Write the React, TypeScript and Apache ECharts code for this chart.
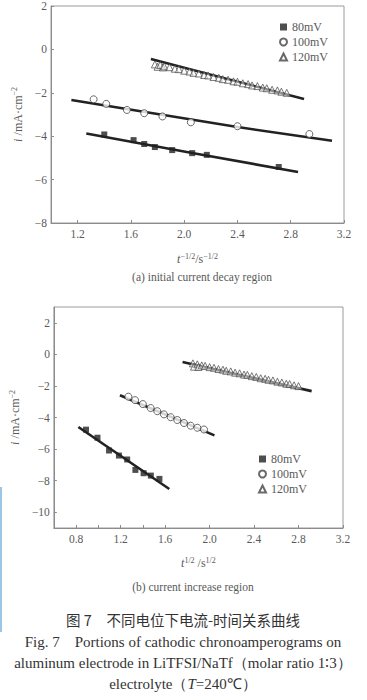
import React, { useEffect, useRef } from "react";
import * as echarts from "echarts";

// ---------- data: (a) initial current decay region ----------
const A_80_PTS: [number, number][] = [
  [1.40, -3.92], [1.62, -4.18], [1.70, -4.36], [1.78, -4.50],
  [1.91, -4.64], [2.06, -4.78], [2.17, -4.86], [2.71, -5.42],
];
const A_80_FIT: [number, number][] = [[1.265, -3.88], [2.06, -4.77], [2.855, -5.65]];

const A_100_PTS: [number, number][] = [
  [1.32, -2.30], [1.415, -2.51], [1.57, -2.79], [1.70, -2.94],
  [1.837, -3.09], [2.05, -3.36], [2.40, -3.54], [2.94, -3.90],
];
const A_100_FIT: [number, number][] = [[1.153, -2.33], [2.40, -3.58], [3.11, -4.21]];

const A_120_PTS: [number, number][] = [
  [1.78, -0.69], [1.80, -0.80], [1.82, -0.72], [1.84, -0.83], [1.85, -0.78],
  [1.89, -0.82], [1.93, -0.89], [1.96, -0.91], [2.00, -0.98], [2.04, -1.02],
  [2.07, -1.08], [2.11, -1.11], [2.15, -1.18], [2.18, -1.20], [2.22, -1.27],
  [2.26, -1.31], [2.29, -1.37], [2.33, -1.40], [2.37, -1.47], [2.40, -1.49],
  [2.44, -1.56], [2.48, -1.60], [2.51, -1.66], [2.55, -1.69], [2.59, -1.76],
  [2.62, -1.79], [2.66, -1.86], [2.70, -1.89], [2.73, -1.95], [2.77, -2.00],
];
const A_120_FIT: [number, number][] = [[1.75, -0.44], [2.90, -2.29]];

// ---------- data: (b) current increase region ----------
const B_80_PTS: [number, number][] = [
  [0.889, -4.77], [0.992, -5.28], [1.096, -6.09], [1.185, -6.41], [1.259, -6.66],
  [1.333, -7.32], [1.407, -7.53], [1.472, -7.68], [1.549, -7.89],
];
const B_80_FIT: [number, number][] = [[0.82, -4.60], [1.638, -8.53]];

const B_100_PTS: [number, number][] = [
  [1.27, -2.68], [1.33, -2.90], [1.40, -3.15], [1.47, -3.40], [1.53, -3.60],
  [1.59, -3.80], [1.65, -3.98], [1.71, -4.16], [1.77, -4.35], [1.83, -4.52],
  [1.89, -4.65], [1.95, -4.76],
];
const B_100_FIT: [number, number][] = [[1.194, -2.59], [2.044, -5.13]];

const B_120_PTS: [number, number][] = [
  [1.85, -0.57], [1.86, -0.78], [1.89, -0.63], [1.90, -0.80], [1.93, -0.70],
  [1.96, -0.73], [2.00, -0.81], [2.04, -0.85], [2.08, -0.93], [2.12, -0.97],
  [2.15, -1.04], [2.19, -1.08], [2.23, -1.16], [2.27, -1.20], [2.31, -1.28],
  [2.34, -1.30], [2.38, -1.38], [2.42, -1.43], [2.46, -1.51], [2.50, -1.55],
  [2.53, -1.61], [2.57, -1.65], [2.61, -1.73], [2.65, -1.78], [2.69, -1.86],
  [2.72, -1.88], [2.76, -1.96], [2.80, -2.01],
];
const B_120_FIT: [number, number][] = [[1.757, -0.48], [2.918, -2.33]];

const SERIES_NAMES = ["80mV", "100mV", "120mV"];
const A_X_TICKS = [1.2, 1.6, 2.0, 2.4, 2.8, 3.2];
const B_X_TICKS = [0.8, 1.2, 1.6, 2.0, 2.4, 2.8, 3.2];
const B_X_MINOR = [0.8, 1.0, 1.2, 1.4, 1.6, 2.0, 2.4, 2.8, 3.2];
const A_Y_TICKS = [-8, -6, -4, -2, 0, 2];
const B_Y_TICKS = [-10, -8, -6, -4, -2, 0, 2];

const SERIF = "'Liberation Serif', 'Times New Roman', serif";
const AXIS_COLOR = "#8c8c8c";
const TEXT_COLOR = "#5a5a5a";
const INK = "#222";

const nameRich = {
  n: { fontFamily: SERIF, fontSize: 12, color: TEXT_COLOR, lineHeight: 14 },
  i: { fontFamily: SERIF, fontSize: 12, color: TEXT_COLOR, fontStyle: "italic", lineHeight: 14 },
  s: { fontFamily: SERIF, fontSize: 8, color: TEXT_COLOR, lineHeight: 8, verticalAlign: "top" },
};

const fmtNum = (v: number) => String(v).replace("-", "−");
const fmtX = (v: number) => v.toFixed(1);

function xAxis(grid: number, min: number, ticks: number[], minor: number[], name: string, gap: number) {
  return {
    gridIndex: grid,
    type: "value",
    min,
    max: 3.2,
    axisLine: { onZero: false, lineStyle: { color: AXIS_COLOR, width: 1 } },
    axisTick: { inside: true, length: 3, customValues: minor, lineStyle: { color: AXIS_COLOR } },
    axisLabel: {
      customValues: ticks,
      formatter: fmtX,
      color: TEXT_COLOR,
      fontSize: 11.5,
      fontFamily: SERIF,
      margin: 5,
    },
    splitLine: { show: false },
    name,
    nameLocation: "middle",
    nameGap: gap,
    nameTextStyle: { rich: nameRich },
  };
}

function yAxis(grid: number, min: number, max: number, ticks: number[], gap: number) {
  return {
    gridIndex: grid,
    type: "value",
    min,
    max,
    axisLine: { onZero: false, lineStyle: { color: AXIS_COLOR, width: 1 } },
    axisTick: { inside: true, length: 3, customValues: ticks, lineStyle: { color: AXIS_COLOR } },
    axisLabel: {
      customValues: ticks,
      formatter: fmtNum,
      color: TEXT_COLOR,
      fontSize: 11.5,
      fontFamily: SERIF,
      margin: 4,
    },
    splitLine: { show: false },
    name: "{i|i} {n|/mA·cm}{s|−2}",
    nameLocation: "middle",
    nameRotate: 90,
    nameGap: gap,
    nameTextStyle: { rich: nameRich },
  };
}

function fitLine(idx: number, data: [number, number][]) {
  return {
    type: "line",
    xAxisIndex: idx,
    yAxisIndex: idx,
    data,
    showSymbol: false,
    silent: true,
    lineStyle: { color: INK, width: 2.6 },
    z: 2,
  };
}

function scatter(idx: number, name: string, data: [number, number][]) {
  const k = SERIES_NAMES.indexOf(name);
  const base: any = {
    type: "scatter",
    name,
    xAxisIndex: idx,
    yAxisIndex: idx,
    data,
    z: 3,
  };
  if (k === 0) {
    base.symbol = "rect";
    base.symbolSize = 6;
    base.itemStyle = { color: INK };
  } else if (k === 1) {
    base.symbol = "circle";
    base.symbolSize = 7;
    base.itemStyle = { color: "#fff", borderColor: "#444", borderWidth: 1 };
  } else {
    base.symbol = "triangle";
    base.symbolSize = 7;
    base.itemStyle = { color: "rgba(255,255,255,0.6)", borderColor: "#444", borderWidth: 0.9 };
  }
  return base;
}

function legend(left: number, top: number) {
  return {
    orient: "vertical",
    left,
    top,
    itemGap: 1,
    itemWidth: 7,
    itemHeight: 7,
    data: SERIES_NAMES,
    selectedMode: false,
    textStyle: { fontFamily: SERIF, fontSize: 12, color: TEXT_COLOR, lineHeight: 14, padding: [0, 0, 0, 0] },
  };
}

export default function App() {
  const ref = useRef<HTMLDivElement>(null);
  useEffect(() => {
    if (!ref.current) return;
    const chart = echarts.init(ref.current, undefined, { renderer: "svg" });
    const option: any = {
      animation: false,
      backgroundColor: "#fff",
      grid: [
        { left: 51, top: 3, width: 293, height: 220, show: true, borderColor: "#9a9a9a", borderWidth: 1 },
        { left: 48, top: 307, width: 295, height: 221, show: true, borderColor: "#9a9a9a", borderWidth: 1 },
      ],
      xAxis: [
        xAxis(0, 1.0, A_X_TICKS, A_X_TICKS, "{i|t}{s|−1/2}{n|/s}{s|−1/2}", 29),
        xAxis(1, 0.6, B_X_TICKS, B_X_MINOR, "{i|t}{s|1/2}{n| /s}{s|1/2}", 28),
      ],
      yAxis: [yAxis(0, -8, 2, A_Y_TICKS, 26), yAxis(1, -11, 3, B_Y_TICKS, 22)],
      legend: [legend(274, 15), legend(253, 447)],
      series: [
        fitLine(0, A_80_FIT),
        fitLine(0, A_100_FIT),
        fitLine(0, A_120_FIT),
        scatter(0, "80mV", A_80_PTS),
        scatter(0, "100mV", A_100_PTS),
        scatter(0, "120mV", A_120_PTS),
        fitLine(1, B_80_FIT),
        fitLine(1, B_100_FIT),
        fitLine(1, B_120_FIT),
        scatter(1, "80mV", B_80_PTS),
        scatter(1, "100mV", B_100_PTS),
        scatter(1, "120mV", B_120_PTS),
      ],
      graphic: [
        {
          type: "rect",
          shape: { x: 0, y: 487, width: 2, height: 145 },
          style: { fill: "#9cc7e4" },
          silent: true,
        },
        {
          type: "text",
          x: 202,
          y: 277,
          style: {
            text: "(a) initial current decay region",
            fill: TEXT_COLOR,
            font: `11.5px ${SERIF}`,
            textAlign: "center",
            textVerticalAlign: "middle",
            align: "center",
            verticalAlign: "middle",
          },
        },
        {
          type: "text",
          x: 193,
          y: 587,
          style: {
            text: "(b) current increase region",
            fill: TEXT_COLOR,
            font: `11.5px ${SERIF}`,
            textAlign: "center",
            textVerticalAlign: "middle",
            align: "center",
            verticalAlign: "middle",
          },
        },
        {
          type: "text",
          x: 183,
          y: 619,
          style: {
            text: "图 7　不同电位下电流-时间关系曲线",
            fill: "#333",
            font: "14.5px 'Noto Sans CJK SC', sans-serif",
            textAlign: "center",
            textVerticalAlign: "middle",
            align: "center",
            verticalAlign: "middle",
          },
        },
        {
          type: "text",
          x: 183,
          y: 642,
          style: {
            text: "Fig. 7　Portions of cathodic chronoamperograms on",
            fill: "#333",
            font: `15px ${SERIF}`,
            textAlign: "center",
            textVerticalAlign: "middle",
            align: "center",
            verticalAlign: "middle",
          },
        },
        {
          type: "text",
          x: 183,
          y: 663,
          style: {
            text: "aluminum electrode in LiTFSI/NaTf（molar ratio 1∶3）",
            fill: "#333",
            font: `15px ${SERIF}`,
            textAlign: "center",
            textVerticalAlign: "middle",
            align: "center",
            verticalAlign: "middle",
          },
        },
        {
          type: "text",
          x: 183,
          y: 684,
          style: {
            text: "{n|electrolyte（}{i|T}{n|=240℃）}",
            fill: "#333",
            font: `15px ${SERIF}`,
            textAlign: "center",
            textVerticalAlign: "middle",
            align: "center",
            verticalAlign: "middle",
            rich: {
              n: { fontFamily: SERIF, fontSize: 15, fill: "#333", color: "#333" },
              i: { fontFamily: SERIF, fontSize: 15, fontStyle: "italic", fill: "#333", color: "#333" },
            },
          },
        },
      ],
    };
    chart.setOption(option);
    return () => chart.dispose();
  }, []);
  return (
    <div
      ref={ref}
      style={{ position: "absolute", left: 0, top: 0, width: 367, height: 700 }}
    />
  );
}
